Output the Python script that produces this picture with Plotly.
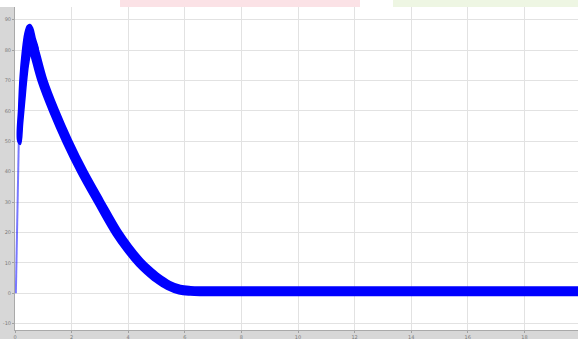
import plotly.graph_objects as go

# Rising edge of the response (thin trace)
rise_x = [0.03, 0.05, 0.07, 0.095, 0.12, 0.15]
rise_y = [0.0, 12.0, 25.0, 38.0, 50.0, 58.0]

# Overshoot peak: outer envelope, then inner envelope back
peak_outer_x = [0.10, 0.13, 0.18, 0.26, 0.35, 0.44, 0.53, 0.62, 0.71, 0.82]
peak_outer_y = [50.0, 61.0, 71.0, 79.5, 85.5, 88.0, 88.4, 87.3, 84.0, 80.0]
peak_inner_x = [0.72, 0.62, 0.55, 0.48, 0.41, 0.34, 0.27, 0.19]
peak_inner_y = [77.0, 77.8, 78.2, 75.5, 70.0, 63.0, 56.0, 49.0]

# Decay and steady state (centre of the ripple band)
decay_x = [0.55, 0.67, 0.97, 1.38, 1.85, 2.38, 2.98, 3.60, 3.98, 4.42,
           4.70, 5.02, 5.42, 5.82, 6.20, 6.70, 20.0]
decay_y = [83.0, 80.0, 70.0, 60.0, 50.0, 40.0, 30.0, 20.0, 15.0, 10.0,
           7.5, 5.0, 2.6, 1.2, 0.8, 0.7, 0.7]

x_ticks = list(range(0, 21, 2))
y_ticks = list(range(-10, 91, 10))

BLUE = "#0000ff"

fig = go.Figure()

fig.add_trace(go.Scatter(
    x=rise_x, y=rise_y, mode="lines",
    line=dict(color="rgba(30,30,255,0.6)", width=2),
    hoverinfo="skip", showlegend=False,
))

fig.add_trace(go.Scatter(
    x=peak_outer_x + peak_inner_x + peak_outer_x[:1],
    y=peak_outer_y + peak_inner_y + peak_outer_y[:1],
    mode="lines", fill="toself", fillcolor=BLUE,
    line=dict(color=BLUE, width=1.5, shape="spline"),
    hoverinfo="skip", showlegend=False,
))

fig.add_trace(go.Scatter(
    x=decay_x, y=decay_y, mode="lines",
    line=dict(color=BLUE, width=10, shape="spline", smoothing=1.0),
    hoverinfo="skip", showlegend=False,
))

W, H = 578, 339
ml, mr, mt, mb = 15, 0, 7, 9
pw, ph = W - ml - mr, H - mt - mb

shapes = [
    # strip above the axes
    dict(type="rect", xref="paper", yref="paper",
         x0=-ml / pw, x1=1.0, y0=1.0, y1=1.0 + mt / ph,
         fillcolor="#ffffff", line=dict(width=0), layer="below"),
    dict(type="rect", xref="paper", yref="paper",
         x0=(120 - ml) / pw, x1=(360 - ml) / pw, y0=1.0, y1=1.0 + mt / ph,
         fillcolor="#fbe2e6", line=dict(width=0), layer="below"),
    dict(type="rect", xref="paper", yref="paper",
         x0=(393 - ml) / pw, x1=1.0, y0=1.0, y1=1.0 + mt / ph,
         fillcolor="#eef6e3", line=dict(width=0), layer="below"),
]

tick_font = dict(family="DejaVu Sans", size=5, color="#7a7a7a")

fig.update_layout(
    width=W, height=H,
    margin=dict(l=ml, r=mr, t=mt, b=mb, pad=0),
    paper_bgcolor="#d7d7d7",
    plot_bgcolor="#ffffff",
    shapes=shapes,
    showlegend=False,
    xaxis=dict(
        range=[0, pw / 28.3], tickvals=x_ticks, ticktext=[str(v) for v in x_ticks],
        showgrid=True, gridcolor="#e2e2e2", gridwidth=1, zeroline=False,
        showline=True, linecolor="#a9a9a9", linewidth=1,
        ticks="outside", ticklen=2, tickcolor="#a0a0a0",
        tickfont=tick_font, fixedrange=True,
    ),
    yaxis=dict(
        range=[-(H - mb - 293.3) / 3.04, (293.3 - mt) / 3.04],
        tickvals=y_ticks, ticktext=[str(v) for v in y_ticks],
        showgrid=True, gridcolor="#e2e2e2", gridwidth=1, zeroline=False,
        showline=True, linecolor="#a9a9a9", linewidth=1,
        ticks="outside", ticklen=2, tickcolor="#a0a0a0",
        tickfont=tick_font, fixedrange=True,
    ),
)

fig.write_html("out.html", config={"displayModeBar": False})
